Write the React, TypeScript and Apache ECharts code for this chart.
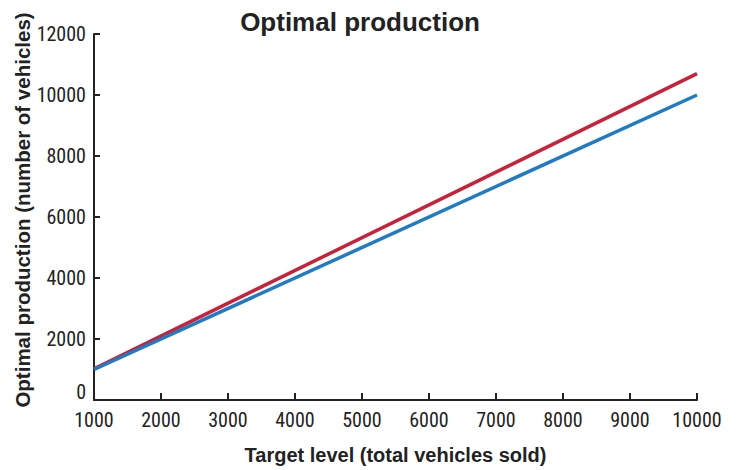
import React, { useEffect, useRef } from "react";
import * as echarts from "echarts";

const targetLevels = [1000, 10000];
const redSeries = [1020, 10700];
const blueSeries = [1000, 10000];
const xTicks = [1000, 2000, 3000, 4000, 5000, 6000, 7000, 8000, 9000, 10000];

export default function App() {
  const ref = useRef<HTMLDivElement>(null);
  useEffect(() => {
    if (!ref.current) return;
    const chart = echarts.init(ref.current, null, { renderer: "svg" });
    const narrow = "'Liberation Sans Narrow', 'Roboto Condensed', Roboto, sans-serif";
    const bold = "'Liberation Sans', Arial, sans-serif";
    chart.setOption({
      animation: false,
      backgroundColor: "#ffffff",
      title: {
        text: "Optimal production",
        left: 355,
        textAlign: "center",
        top: 4,
        textStyle: { fontFamily: bold, fontWeight: "bold", fontSize: 26, color: "#222" },
      },
      graphic: [
        {
          type: "text",
          x: 22,
          y: 210,
          rotation: Math.PI / 2,
          style: {
            text: "Optimal production (number of vehicles)",
            fontFamily: bold,
            fontWeight: "bold",
            fontSize: 20.5,
            fill: "#222",
            align: "center",
            verticalAlign: "middle",
          },
        },
      ],
      grid: { left: 94, right: 42, top: 34, bottom: 69, containLabel: false },
      xAxis: {
        type: "value",
        min: 1000,
        max: 10000,
        interval: 1000,
        name: "Target level (total vehicles sold)",
        nameLocation: "middle",
        nameGap: 45,
        nameTextStyle: { fontFamily: bold, fontWeight: "bold", fontSize: 20, color: "#222" },
        axisLine: { show: true, lineStyle: { color: "#222", width: 2 } },
        axisTick: { show: true, inside: true, length: 7, lineStyle: { color: "#222", width: 2 } },
        axisLabel: { fontFamily: narrow, fontSize: 20, color: "#222", margin: 10, formatter: (v: number) => (xTicks.includes(v) ? String(v) : "") },
        splitLine: { show: false },
      },
      yAxis: {
        type: "value",
        min: 0,
        max: 12000,
        interval: 2000,
        axisLine: { show: true, lineStyle: { color: "#222", width: 2 } },
        axisTick: { show: true, inside: true, length: 6, lineStyle: { color: "#222", width: 2 } },
        axisLabel: {
          fontFamily: narrow,
          fontSize: 20,
          color: "#222",
          margin: 8,
          formatter: (v: number) => (v === 0 ? "{z|0}" : String(v)),
          rich: { z: { fontFamily: narrow, fontSize: 20, color: "#222", padding: [0, 0, 16, 0] } },
        },
        splitLine: { show: false },
      },
      series: [
        {
          type: "line",
          data: targetLevels.map((x, i) => [x, redSeries[i]]),
          showSymbol: false,
          lineStyle: { color: "#c8223a", width: 3.5 },
          z: 2,
        },
        {
          type: "line",
          data: targetLevels.map((x, i) => [x, blueSeries[i]]),
          showSymbol: false,
          lineStyle: { color: "#1f7bc4", width: 3.5 },
          z: 3,
        },
      ],
    });
    return () => chart.dispose();
  }, []);
  return <div ref={ref} style={{ position: "fixed", left: 0, top: 0, width: 739, height: 470 }} />;
}
